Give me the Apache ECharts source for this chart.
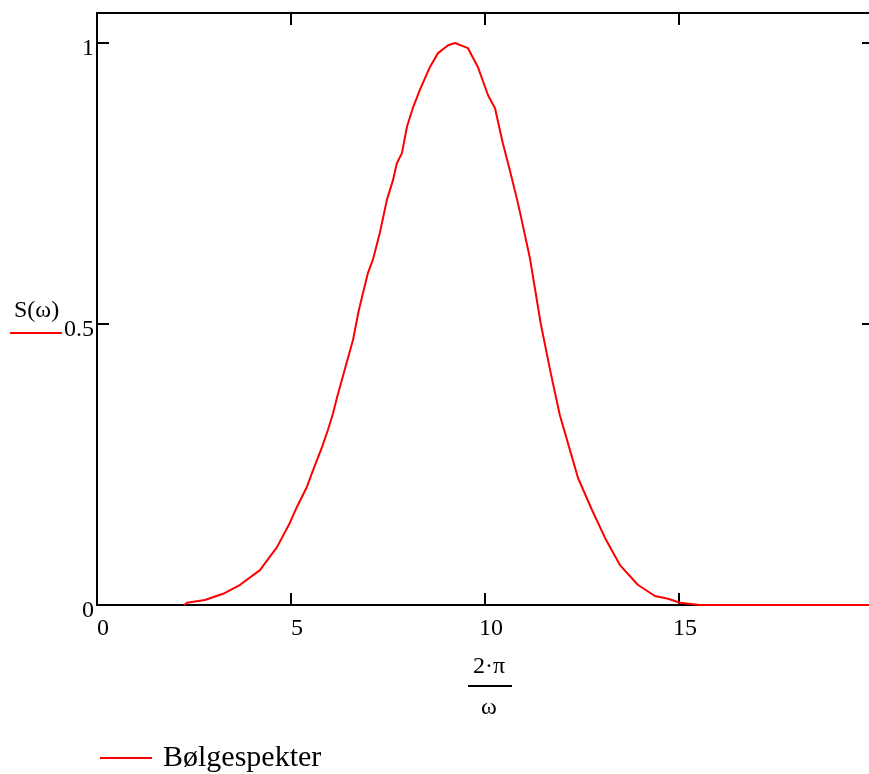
<!DOCTYPE html>
<html>
<head>
<meta charset="utf-8">
<script src="https://cdn.jsdelivr.net/npm/echarts@6/dist/echarts.min.js"></script>
<style>
  html, body { margin: 0; padding: 0; background: #fff; }
  #chart { width: 869px; height: 774px; }
</style>
</head>
<body>
<div id="chart"></div>
<script>
// Wave period T = 2·π/ω (s)
const period = [
  2.25, 2.32, 2.78, 3.25, 3.69, 4.2, 4.64, 4.97, 5.15, 5.41, 5.57, 5.8, 5.95, 6.08, 6.19,
  6.31, 6.6, 6.75, 6.98, 7.11, 7.29, 7.47, 7.63, 7.73, 7.86, 7.99, 8.14, 8.32, 8.58, 8.79,
  9.05, 9.23, 9.56, 9.82, 10.08, 10.26, 10.46, 10.64, 10.82, 10.9, 11.16, 11.44, 11.68,
  11.93, 12.19, 12.4, 12.76, 13.12, 13.48, 13.94, 14.38, 14.72, 15.03, 15.54, 17, 18.5, 19.9
];
// Normalised spectral density S(ω)
const spectrum = [
  0.0, 0.004, 0.009, 0.02, 0.036, 0.062, 0.103, 0.146, 0.174, 0.21, 0.24, 0.281, 0.311, 0.34, 0.37,
  0.40, 0.472, 0.525, 0.59, 0.614, 0.662, 0.72, 0.756, 0.786, 0.804, 0.851, 0.884, 0.916, 0.957, 0.982,
  0.996, 1.0, 0.991, 0.957, 0.907, 0.884, 0.822, 0.774, 0.724, 0.70, 0.617, 0.50, 0.418,
  0.338, 0.276, 0.226, 0.169, 0.116, 0.071, 0.036, 0.016, 0.011, 0.004, 0.0, 0.0, 0.0, 0.0
];
const xTicks = [0, 5, 10, 15];
const yTicks = [0, 0.5, 1];
const seriesName = 'Bølgespekter';

const serif = '"Liberation Serif", "DejaVu Serif", serif';
const chart = echarts.init(document.getElementById('chart'), null, { renderer: 'canvas' });

const axisLine = { show: true, onZero: false, lineStyle: { color: '#000', width: 2 } };
const tick = { show: true, inside: true, length: 12, lineStyle: { color: '#000', width: 2 } };
const X_MAX = 19.9;
const Y_MAX = 1.0534;

chart.setOption({
  animation: false,
  backgroundColor: '#fff',
  grid: { left: 97, top: 13, right: 0, height: 592, show: false },
  xAxis: [
    {
      type: 'value', min: 0, max: X_MAX, interval: 5, position: 'bottom',
      axisLine: axisLine,
      axisTick: Object.assign({}, tick, { customValues: xTicks }),
      axisLabel: {
        customValues: xTicks, margin: 12, padding: [0, 0, 0, 12],
        color: '#000', fontFamily: serif, fontSize: 24
      },
      splitLine: { show: false }
    },
    {
      type: 'value', min: 0, max: X_MAX, interval: 5, position: 'top',
      axisLine: axisLine,
      axisTick: Object.assign({}, tick, { customValues: xTicks }),
      axisLabel: { show: false },
      splitLine: { show: false }
    }
  ],
  yAxis: [
    {
      type: 'value', min: 0, max: Y_MAX, interval: 0.5, position: 'left',
      axisLine: axisLine,
      axisTick: Object.assign({}, tick, { customValues: yTicks }),
      axisLabel: {
        customValues: yTicks, margin: 3, verticalAlign: 'top', lineHeight: 12,
        color: '#000', fontFamily: serif, fontSize: 24
      },
      splitLine: { show: false }
    },
    {
      // frame edge lies just past the window; only the inner part of its ticks shows
      type: 'value', min: 0, max: Y_MAX, interval: 0.5, position: 'right',
      axisLine: { show: false, onZero: false },
      axisTick: Object.assign({}, tick, { length: 7, customValues: yTicks }),
      axisLabel: { show: false },
      splitLine: { show: false }
    }
  ],
  legend: {
    show: true,
    left: 95, top: 738,
    icon: 'rect', itemWidth: 52, itemHeight: 2,
    itemStyle: { color: '#ff0000' },
    textStyle: { color: '#000', fontFamily: serif, fontSize: 30, padding: [0, 0, 0, 6] },
    data: [seriesName]
  },
  series: [{
    name: seriesName,
    type: 'line',
    xAxisIndex: 0, yAxisIndex: 0,
    showSymbol: false,
    symbol: 'none',
    clip: false,
    lineStyle: { color: '#ff0000', width: 2 },
    itemStyle: { color: '#ff0000' },
    z: 5,
    data: period.map((t, i) => [t, spectrum[i]])
  }],
  graphic: [
    { type: 'text', left: 14, top: 299,
      style: { text: 'S(ω)', font: '24px ' + serif, fill: '#000' } },
    { type: 'line', shape: { x1: 10, y1: 333, x2: 62, y2: 333 },
      style: { stroke: '#ff0000', lineWidth: 2 } },
    { type: 'text', x: 489, y: 667,
      style: { text: '2·π', font: '24px ' + serif, fill: '#000', align: 'center', verticalAlign: 'middle' } },
    { type: 'line', shape: { x1: 468, y1: 686, x2: 512, y2: 686 },
      style: { stroke: '#000', lineWidth: 2 } },
    { type: 'text', x: 489, y: 708,
      style: { text: 'ω', font: '24px ' + serif, fill: '#000', align: 'center', verticalAlign: 'middle' } }
  ]
});
</script>
</body>
</html>
